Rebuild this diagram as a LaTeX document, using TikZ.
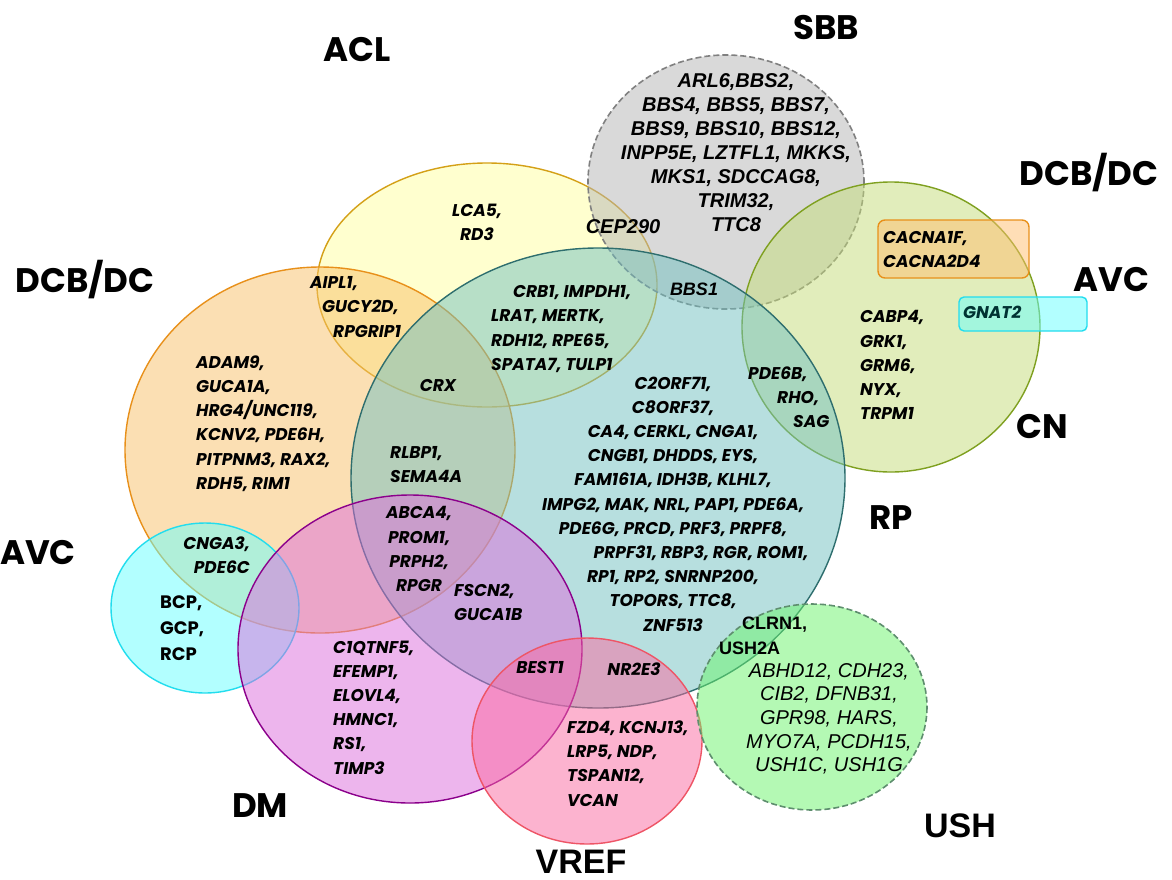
\documentclass[tikz,border=0pt]{standalone}
\usepackage{fontspec}
\setmainfont{Poppins}
\newfontfamily\arialfam{Liberation Sans}
\definecolor{aclfill}{RGB}{255,255,161}
\definecolor{aclline}{RGB}{212,160,23}
\definecolor{dcbfill}{RGB}{249,193,105}
\definecolor{dcbline}{RGB}{232,144,26}
\definecolor{rpfill}{RGB}{113,193,193}
\definecolor{rpline}{RGB}{46,110,110}
\definecolor{sbbfill}{RGB}{181,181,181}
\definecolor{sbbline}{RGB}{128,128,128}
\definecolor{cnfill}{RGB}{197,221,121}
\definecolor{cnline}{RGB}{127,160,32}
\definecolor{avcfill}{RGB}{103,255,255}
\definecolor{avcline}{RGB}{34,221,238}
\definecolor{dmfill}{RGB}{221,109,221}
\definecolor{dmline}{RGB}{139,0,139}
\definecolor{vreffill}{RGB}{251,105,161}
\definecolor{vrefline}{RGB}{238,85,102}
\definecolor{ushfill}{RGB}{107,245,107}
\definecolor{ushline}{RGB}{94,142,110}
\definecolor{boxorange}{RGB}{255,190,110}
\definecolor{gnattext}{RGB}{0,50,50}
\tikzset{
  setline/.style={line width=1.4pt, fill opacity=0.5},
  dashedset/.style={line width=1.6pt, dash pattern=on 6pt off 3pt},
  gene/.style={inner sep=0pt, font=\fontsize{17}{24.2}\selectfont\bfseries\itshape},
  geneup/.style={inner sep=0pt, font=\fontsize{18}{26}\selectfont\bfseries},
  arialgene/.style={inner sep=0pt, font=\arialfam\fontsize{20}{24}\selectfont\bfseries\itshape},
  ushgene/.style={inner sep=0pt, font=\arialfam\fontsize{20}{23.7}\selectfont\itshape},
  arialbold/.style={inner sep=0pt, font=\arialfam\fontsize{18}{25}\selectfont\bfseries},
  setname/.style={inner sep=0pt, font=\fontsize{34}{40}\selectfont\bfseries},
  setnamearial/.style={inner sep=0pt, font=\arialfam\fontsize{34}{40}\selectfont\bfseries},
}
\begin{document}
\begin{tikzpicture}[x=1pt,y=-1pt]
\useasboundingbox (0,0) rectangle (1172,879);
\fill[white] (0,0) rectangle (1172,879);

% disease sets
\draw[setline, draw=aclline, fill=aclfill] (487,285) ellipse [x radius=170, y radius=122];
\draw[setline, dashedset, draw=sbbline, fill=sbbfill] (726,182) ellipse [x radius=138, y radius=127];
\draw[setline, draw=cnline, fill=cnfill] (891,327) ellipse [x radius=149, y radius=145];
\draw[setline, draw=dcbline, fill=dcbfill] (320,450) ellipse [x radius=195, y radius=183];
\draw[setline, draw=rpline, fill=rpfill] (598,478) ellipse [x radius=247, y radius=230];
\draw[setline, draw=avcline, fill=avcfill] (205,608) ellipse [x radius=94, y radius=85];
\draw[setline, draw=dmline, fill=dmfill] (410,649) ellipse [x radius=172, y radius=154];
\draw[setline, draw=vrefline, fill=vreffill] (587,741) ellipse [x radius=115, y radius=103];
\draw[setline, dashedset, draw=ushline, fill=ushfill] (812,707) ellipse [x radius=115, y radius=103];

% small boxes
\draw[setline, draw=dcbline, fill=boxorange, rounded corners=7pt] (878,220) rectangle (1029,278);
\draw[setline, draw=avcline, fill=avcfill, rounded corners=5pt] (959,297) rectangle (1087,331);

% set names
\node[setname] (nACL) at (357,50) {ACL};
\node[setname] (nSBB) at (826,28) {SBB};
\node[setname] (nDCBr) at (1089,173) {DCB/DC};
\node[setname] (nAVCr) at (1111,280) {AVC};
\node[setname] (nCN) at (1042,427) {CN};
\node[setname] (nRP) at (891,518) {RP};
\node[setname] (nDCBl) at (85,280) {DCB/DC};
\node[setname] (nAVCl) at (38,553) {AVC};
\node[setname] (nDM) at (260,806) {DM};
\node[setnamearial] (nVREF) at (581,862) {VREF};
\node[setnamearial] (nUSH) at (960,826) {USH};

% genes
\node[gene, align=center, anchor=north] (gACL) at (477,203.5) {LCA5,\\RD3};
\node[arialgene] (gCEP) at (623,227) {CEP290};
\node[arialgene, align=center, anchor=north] (gSBB) at (736,73) {ARL6,BBS2,\\BBS4, BBS5, BBS7,\\BBS9, BBS10, BBS12,\\INPP5E, LZTFL1, MKKS,\\MKS1, SDCCAG8,\\TRIM32,\\TTC8};
\node[arialgene, font=\arialfam\fontsize{18}{22}\selectfont\bfseries\itshape] (gBBS1) at (694,289) {BBS1};
\node[gene, align=left, anchor=north west] (gAIPL) at (310,276.5) {AIPL1,\\\hspace*{12pt}GUCY2D,\\\hspace*{23pt}RPGRIP1};
\node[gene, align=left, anchor=north west] (gCRB) at (491,285.5) {\hspace*{22pt}CRB1, IMPDH1,\\LRAT, MERTK,\\RDH12, RPE65,\\SPATA7, TULP1};
\node[gene] (gCRX) at (438,385) {CRX};
\node[gene, align=left, anchor=north west] (gDCB) at (196,355.5) {ADAM9,\\GUCA1A,\\HRG4/UNC119,\\KCNV2, PDE6H,\\PITPNM3, RAX2,\\RDH5, RIM1};
\node[gene, align=left, anchor=north west] (gRLBP) at (390,446.5) {RLBP1,\\SEMA4A};
\node[gene, align=center, anchor=north] (gABCA) at (419,506.5) {ABCA4,\\PROM1,\\PRPH2,\\RPGR};
\node[gene, align=left, anchor=north west] (gFSCN) at (454,583.5) {FSCN2,\\GUCA1B};
\node[gene, align=left, anchor=north west] (gC1Q) at (333,640.5) {C1QTNF5,\\EFEMP1,\\ELOVL4,\\HMNC1,\\RS1,\\TIMP3};
\node[gene, align=right, anchor=north east] (gCNGA) at (250,536.5) {CNGA3,\\PDE6C};
\node[geneup, align=left, anchor=north west] (gBCP) at (160,595.5) {BCP,\\GCP,\\RCP};
\node[gene, align=center, anchor=north] (gRP) at (673,376.5) {C2ORF71,\\C8ORF37,\\CA4, CERKL, CNGA1,\\CNGB1, DHDDS, EYS,\\FAM161A, IDH3B, KLHL7,\\IMPG2, MAK, NRL, PAP1, PDE6A,\\PDE6G, PRCD, PRF3, PRPF8,\\\hspace*{56pt}PRPF31, RBP3, RGR, ROM1,\\RP1, RP2, SNRNP200,\\TOPORS, TTC8,\\ZNF513};
\node[gene, align=left, anchor=north west] (gPDE6B) at (748,366.5) {PDE6B,\\\hspace*{29pt}RHO,\\\hspace*{45pt}SAG};
\node[gene, align=left, anchor=north west] (gCABP) at (860,310.5) {CABP4,\\GRK1,\\GRM6,\\NYX,\\TRPM1};
\node[gene, align=left, anchor=north west] (gCACNA) at (883,231.5) {CACNA1F,\\CACNA2D4};
\node[gene, anchor=west, text=gnattext] (gGNAT) at (963,312) {GNAT2};
\node[arialbold, align=left, anchor=north west] (gCLRN) at (719,616.5) {\hspace*{23pt}CLRN1,\\USH2A};
\node[ushgene, align=center, anchor=north] (gUSH) at (829,663) {ABHD12, CDH23,\\CIB2, DFNB31,\\GPR98, HARS,\\MYO7A, PCDH15,\\USH1C, USH1G};
\node[gene] (gBEST) at (540,667) {BEST1};
\node[gene] (gNR2E3) at (634,669) {NR2E3};
\node[gene, align=left, anchor=north west] (gFZD) at (567,720.5) {FZD4, KCNJ13,\\LRP5, NDP,\\TSPAN12,\\VCAN};
\end{tikzpicture}
\end{document}
